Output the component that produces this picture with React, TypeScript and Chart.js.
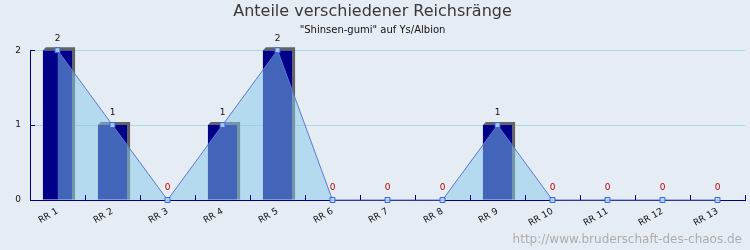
import React, { useEffect, useRef } from "react";
import { Chart, registerables } from "chart.js";

Chart.register(...registerables);

const categories = ["RR 1", "RR 2", "RR 3", "RR 4", "RR 5", "RR 6", "RR 7", "RR 8", "RR 9", "RR 10", "RR 11", "RR 12", "RR 13"];
const rankCounts = [2, 1, 0, 1, 2, 0, 0, 0, 1, 0, 0, 0, 0];
const yTickValues = [0, 1, 2];
const titleText = "Anteile verschiedener Reichsränge";
const subtitleText = "\"Shinsen-gumi\" auf Ys/Albion";
const watermarkText = "http://www.bruderschaft-des-chaos.de";

const NAVY = "#000088";
const FONT = "'DejaVu Sans', sans-serif";

const shadowPlugin = {
  id: "barShadow",
  beforeDatasetDraw(chart: any, args: any) {
    if (args.index !== 0) return;
    const ctx = chart.ctx;
    const meta = chart.getDatasetMeta(0);
    const d = 3;
    ctx.save();
    ctx.fillStyle = "#646464";
    meta.data.forEach((bar: any, i: number) => {
      if (!rankCounts[i]) return;
      const p = bar.getProps(["x", "y", "base", "width"], true);
      const left = p.x - p.width / 2;
      const right = p.x + p.width / 2;
      const top = p.y;
      const bottom = p.base;
      ctx.beginPath();
      ctx.moveTo(left, top);
      ctx.lineTo(left + d, top - d);
      ctx.lineTo(right + d, top - d);
      ctx.lineTo(right + d, bottom);
      ctx.lineTo(right, bottom);
      ctx.lineTo(right, top);
      ctx.closePath();
      ctx.fill();
    });
    ctx.restore();
  },
};

const decorPlugin = {
  id: "decor",
  afterDatasetsDraw(chart: any) {
    const ctx = chart.ctx;
    const xs = chart.scales.x;
    const ys = chart.scales.y;
    const area = chart.chartArea;
    ctx.save();
    // inward ticks
    ctx.strokeStyle = NAVY;
    ctx.lineWidth = 1;
    ctx.beginPath();
    for (let k = 0; k < categories.length; k++) {
      const px = Math.round(xs.getPixelForValue(k + 0.5)) + 0.5;
      ctx.moveTo(px, area.bottom);
      ctx.lineTo(px, area.bottom - 5);
    }
    yTickValues.forEach((v) => {
      if (v === 0) return;
      const py = Math.round(ys.getPixelForValue(v)) + 0.5;
      ctx.moveTo(area.left, py);
      ctx.lineTo(area.left + 5, py);
    });
    ctx.stroke();
    // value labels
    const meta = chart.getDatasetMeta(1);
    ctx.font = "9px " + FONT;
    ctx.textAlign = "center";
    ctx.textBaseline = "middle";
    meta.data.forEach((pt: any, i: number) => {
      const v = rankCounts[i];
      ctx.fillStyle = v === 0 ? "#c00000" : "#111111";
      ctx.fillText(String(v), pt.x, pt.y - 12);
    });
    // watermark
    ctx.font = "12px " + FONT;
    ctx.fillStyle = "#adadad";
    ctx.textAlign = "right";
    ctx.textBaseline = "middle";
    ctx.fillText(watermarkText, 742, 240);
    ctx.restore();
  },
};

export default function App() {
  const ref = useRef<HTMLCanvasElement | null>(null);
  useEffect(() => {
    document.body.style.margin = "0";
    if (!ref.current) return;
    const chart = new Chart(ref.current, {
      type: "bar",
      data: {
        labels: categories,
        datasets: [
          {
            type: "bar",
            data: rankCounts,
            backgroundColor: NAVY,
            borderWidth: 0,
            categoryPercentage: 1,
            barPercentage: 0.53,
            order: 2,
          },
          {
            type: "line",
            data: rankCounts,
            borderColor: "#5a78d2",
            borderWidth: 1,
            backgroundColor: "rgba(131,200,234,0.5)",
            fill: "origin",
            tension: 0,
            pointStyle: "rect",
            pointRadius: 3.5,
            pointBackgroundColor: "rgba(180,220,245,0.85)",
            pointBorderColor: "#3f63e8",
            pointBorderWidth: 1,
            clip: false,
            order: 1,
          } as any,
        ],
      },
      options: {
        responsive: false,
        animation: false,
        layout: { padding: { left: 0, right: 5, top: 0, bottom: 0 } },
        plugins: {
          legend: { display: false },
          tooltip: { enabled: false },
          title: {
            display: true,
            text: titleText,
            color: "#383838",
            font: { family: FONT, size: 16, weight: "normal" },
            padding: { top: 2, bottom: 0 },
          },
          subtitle: {
            display: true,
            text: subtitleText,
            color: "#111111",
            font: { family: FONT, size: 10, weight: "normal" },
            padding: { top: 3, bottom: 14 },
          },
        },
        scales: {
          x: {
            type: "category",
            offset: true,
            grid: { display: false, drawTicks: false },
            border: { display: true, color: NAVY, width: 1 },
            ticks: {
              color: "#111111",
              font: { family: FONT, size: 9 },
              minRotation: 30,
              maxRotation: 30,
              padding: 6,
              autoSkip: false,
            },
            afterFit: (s: any) => {
              s.height = 50;
            },
          },
          y: {
            min: 0,
            max: 2,
            afterBuildTicks: (s: any) => {
              s.ticks = yTickValues.map((v) => ({ value: v }));
            },
            grid: {
              drawTicks: false,
              color: (c: any) => (c.tick && c.tick.value === 0 ? "rgba(0,0,0,0)" : "#a6dae8"),
            },
            border: { display: true, color: NAVY, width: 1 },
            ticks: {
              color: "#111111",
              font: { family: FONT, size: 9 },
              padding: 9,
            },
            afterFit: (s: any) => {
              s.width = 30;
            },
          },
        },
      },
      plugins: [shadowPlugin, decorPlugin],
    });
    return () => chart.destroy();
  }, []);
  return (
    <canvas
      ref={ref}
      width={750}
      height={250}
      style={{ display: "block", width: 750, height: 250, background: "#e6ecf4" }}
    />
  );
}
